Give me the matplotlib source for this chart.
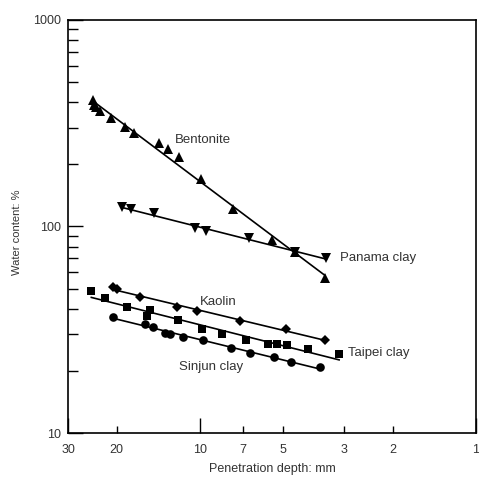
import numpy as np
import matplotlib.pyplot as plt
from matplotlib.ticker import FixedLocator, FixedFormatter, NullFormatter

plt.rcParams['font.family'] = ['Liberation Sans', 'DejaVu Sans']

# penetration depth (mm) / water content (%)
bent_x = [24.4, 24.2, 23.7, 22.9, 20.9, 18.7, 17.3, 14.1, 13.0, 11.9, 9.86, 7.57, 5.5, 4.53, 3.53]
bent_y = [410, 387, 380, 362, 334, 304, 284, 253, 237, 216, 169, 121, 86, 75, 56]

pan_x = [19.2, 17.8, 14.7, 10.4, 9.46, 6.63, 4.53, 3.48]
pan_y = [124, 121, 116, 98.6, 94.6, 87.9, 75.5, 70.2]

kao_x = [20.6, 20.0, 16.5, 12.1, 10.2, 7.16, 4.88, 3.53]
kao_y = [50.8, 49.6, 45.4, 40.9, 39.1, 34.8, 31.9, 28.2]

tai_x = [24.7, 22.1, 18.4, 15.2, 15.5, 12.0, 9.78, 8.32, 6.78, 5.68, 5.24, 4.84, 4.06, 3.13]
tai_y = [48.9, 44.9, 40.6, 39.4, 36.8, 35.1, 31.8, 30.1, 28.1, 26.9, 26.9, 26.6, 25.4, 24.0]

sin_x = [20.6, 15.8, 14.8, 13.4, 12.8, 11.5, 9.75, 7.74, 6.56, 5.40, 4.66, 3.67]
sin_y = [36.6, 33.9, 32.6, 30.5, 30.1, 29.2, 28.2, 25.7, 24.3, 23.4, 22.1, 20.8]

series = [
    ("Bentonite", bent_x, bent_y, '^'),
    ("Panama clay", pan_x, pan_y, 'v'),
    ("Kaolin", kao_x, kao_y, 'D'),
    ("Taipei clay", tai_x, tai_y, 's'),
    ("Sinjun clay", sin_x, sin_y, 'o'),
]
msize = {'^': 6.5, 'v': 6.5, 'D': 5.5, 's': 5.5, 'o': 6.2}

fig = plt.figure(figsize=(4.79, 4.86), dpi=100)
ax = fig.add_axes([68/479, 1-433/486, 408/479, 413/486])

for name, xs, ys, mk in series:
    xs = np.array(xs)
    ys = np.array(ys)
    ax.plot(xs, ys, mk, color='black', ms=msize[mk], mew=0)
    # straight fitted line in log-log
    p = np.polyfit(np.log10(xs), np.log10(ys), 1)
    xx = np.array([xs.min(), xs.max()])
    ax.plot(xx, 10**np.polyval(p, np.log10(xx)), color='black', lw=1.2)

ax.set_xscale('log')
ax.set_yscale('log')
ax.set_xlim(30, 1)
ax.set_ylim(10, 1000)

tc = '#333333'
ax.xaxis.set_major_locator(FixedLocator([30, 10, 1]))
ax.xaxis.set_major_formatter(FixedFormatter(['30', '10', '1']))
ax.xaxis.set_minor_locator(FixedLocator([20, 7, 5, 3, 2]))
ax.xaxis.set_minor_formatter(FixedFormatter(['20', '7', '5', '3', '2']))
ax.yaxis.set_major_locator(FixedLocator([10, 100, 1000]))
ax.yaxis.set_major_formatter(FixedFormatter(['10', '100', '1000']))
ax.yaxis.set_minor_locator(FixedLocator([k * d for d in (10, 100) for k in range(2, 10)]))
ax.yaxis.set_minor_formatter(NullFormatter())

ax.tick_params(axis='both', which='both', direction='in', top=False, right=False,
               labelsize=9, labelcolor=tc, width=1.0)
ax.tick_params(axis='x', which='major', length=11, pad=8)
ax.tick_params(axis='x', which='minor', length=5, pad=8)
ax.tick_params(axis='y', which='major', length=11, pad=5)
ax.tick_params(axis='y', which='minor', length=7)
for s in ax.spines.values():
    s.set_linewidth(1.2)

ax.set_xlabel('Penetration depth: mm', fontsize=9, color=tc, labelpad=5)
ax.set_ylabel('Water content: %', fontsize=8, color=tc)
ax.yaxis.set_label_coords(-0.112, 0.485)

lbl = dict(fontsize=9.5, color=tc, va='center', ha='left')
ax.text(12.3, 262, 'Bentonite', **lbl)
ax.text(3.1, 70, 'Panama clay', **lbl)
ax.text(10.0, 43, 'Kaolin', **lbl)
ax.text(2.9, 24.3, 'Taipei clay', **lbl)
ax.text(11.9, 20.8, 'Sinjun clay', **lbl)

fig.savefig('out.png', dpi=100)
